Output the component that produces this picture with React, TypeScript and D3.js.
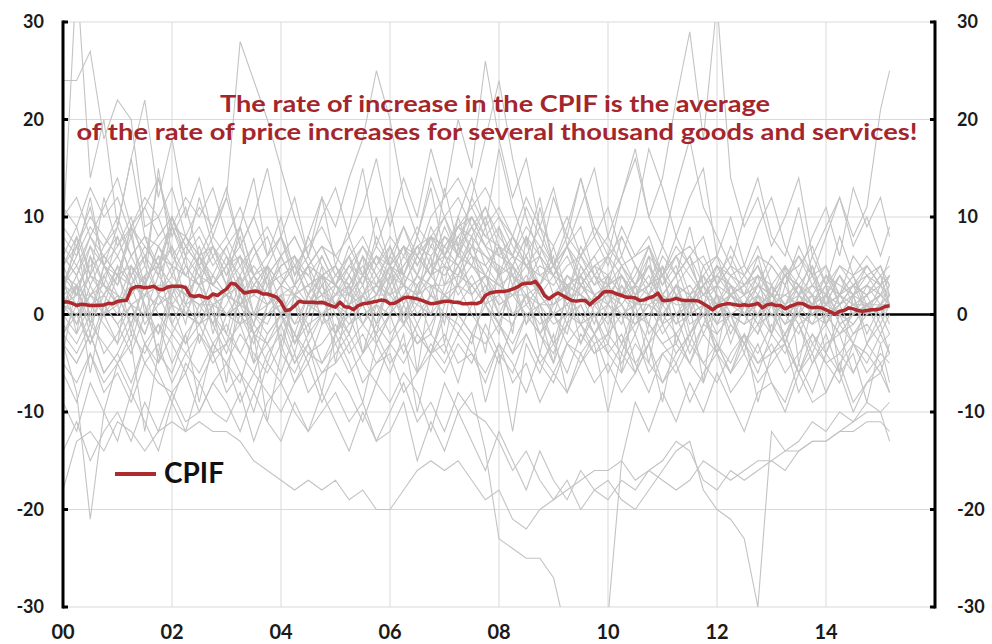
import React from "react";
import * as d3 from "d3";

// CPIF, annual % change, monthly Jan 2000 - Mar 2015
const cpif: number[] = [
  1.26, 1.3, 1.15, 0.92, 1.05, 1.0, 0.92, 0.92, 0.95, 0.98, 1.15, 1.1,
  1.35, 1.42, 1.45, 2.6, 2.85, 2.85, 2.75, 2.8, 2.9, 2.6, 2.55, 2.8,
  2.9, 2.9, 2.9, 2.75, 1.95, 1.85, 1.95, 1.78, 1.7, 2.1, 1.95, 2.3,
  2.6, 3.2, 3.1, 2.6, 2.2, 2.3, 2.4, 2.35, 2.1, 2.1, 1.95, 1.78,
  1.26, 0.4, 0.48, 0.9, 1.35, 1.26, 1.26, 1.26, 1.2, 1.26, 1.1, 0.92,
  0.75, 1.26, 0.8, 0.75, 0.48, 0.92, 1.1, 1.15, 1.26, 1.35, 1.48, 1.42,
  1.1, 1.15, 1.42, 1.7, 1.78, 1.7, 1.6, 1.45, 1.26, 1.1, 1.15, 1.26,
  1.35, 1.35, 1.26, 1.26, 1.1, 1.1, 1.15, 1.1, 1.26, 1.95, 2.2, 2.3,
  2.35, 2.35, 2.45, 2.6, 2.8, 3.1, 3.2, 3.2, 3.4, 2.8, 1.95, 1.6,
  1.95, 2.2, 1.95, 1.7, 1.44, 1.37, 1.44, 1.44, 0.99, 1.44, 1.78, 2.3,
  2.35, 2.3, 2.1, 1.95, 1.78, 1.78, 1.7, 1.44, 1.5, 1.7, 1.85, 2.2,
  1.44, 1.44, 1.5, 1.65, 1.5, 1.44, 1.44, 1.44, 1.37, 1.1, 0.82, 0.48,
  0.82, 0.99, 1.09, 1.09, 0.99, 0.92, 0.99, 0.92, 0.99, 1.16, 0.68, 0.99,
  1.09, 0.92, 0.92, 0.58, 0.82, 0.99, 1.16, 1.09, 0.82, 0.68, 0.75, 0.68,
  0.48, 0.27, 0.03, 0.34, 0.41, 0.68, 0.58, 0.41, 0.34, 0.41, 0.48, 0.48,
  0.58, 0.82, 0.89,
];

// individual goods and services, quarterly readings (last one Mar 2015)
const itemSeries: string[] = [
  "3 1 4 2 5 3 6 4 2 5  3 1 2 4 0 -1 2 3 1 0  2 4 1 3 2 0 3 5 4 6  5 3 1 2 4 2 0 1 3 2  1 3 0 2 1 -1 2 0 1 3  0 2 1 -1 0 2 1 0 -1 1  2 1",
  "-2 1 -3 0 2 -1 3 0 -2 1  -1 -4 0 2 -2 -5 -1 1 -3 0  -2 1 -1 -3 0 2 -1 -4 1 3  0 -2 -5 -1 2 0 -3 -1 1 -2  0 -3 -1 1 -2 0 -4 -1 2 -1  -3 0 -2 1 -1 -4 0 -2 -1 1  -2 0",
  "5 7 3 6 8 4 7 5 9 6  4 6 3 5 2 4 6 3 5 4  2 5 3 6 4 7 5 8 6 9  7 10 6 5 8 4 3 5 6 3  4 2 5 3 4 6 2 3 5 4  3 5 2 4 3 1 4 2 3 5  3 4",
  "4 -2 6 0 -3 5 1 -4 3 -1  6 2 -2 4 -5 1 3 -3 0 5  -2 3 -4 1 5 -1 2 6 -3 4  8 1 -2 5 3 -4 2 -1 4 0  -3 3 1 -5 2 4 -2 1 -4 3  0 -2 3 -3 1 2 -4 0 2 -2  1 3",
  "9 7 10 8 6 9 11 8 10 7  9 6 8 5 7 4 6 8 5 7  6 4 7 5 8 6 9 7 10 12  9 11 8 6 9 7 5 8 6 9  7 5 6 8 4 6 7 5 6 4  5 3 6 4 5 7 3 5 4 6  4 5",
  "-3 -5 -2 -6 -4 -7 -3 -5 -2 -4  -6 -3 -5 -2 -4 -6 -3 -7 -4 -5  -3 -6 -4 -2 -5 -3 -6 -4 -2 -5  -4 -7 -3 -5 -8 -4 -6 -3 -5 -2  -4 -6 -3 -5 -7 -4 -2 -5 -3 -6  -4 -7 -5 -3 -6 -4 -8 -5 -3 -6  -4 -5",
  "1 2 2 3 2 1 2 3 3 2  1 1 2 1 0 1 2 2 1 1  2 2 1 2 2 3 2 3 3 4  3 4 3 2 2 1 1 2 2 1  2 2 1 1 2 1 1 2 1 1  0 1 1 0 1 1 0 0 1 1  1 1",
  "3 6 12 5 4 8 3 15 6 4  7 3 5 9 4 2 6 3 8 5  3 7 4 10 5 3 6 4 13 7  5 9 4 6 3 11 5 2 7 4  3 8 5 2 6 4 9 3 5 2  4 7 3 5 2 6 3 8 4 5  3 6",
  "-3 -8 -21 -10 -5 -3 -12 -4 -6 -2  -9 -3 -5 -7 -2 -11 -4 -6 -3 -8  -2 -5 -9 -3 -6 -2 -10 -4 -3 -7  -2 -9 -4 -12 -3 -6 -2 -8 -5 -3  -10 -4 -6 -3 -9 -2 -5 -7 -3 -6  -2 -9 -4 -3 -8 -5 -2 -6 -4 -9  -3 -7",
  "6 4 8 5 7 9 6 8 10 7  5 8 6 4 7 3 5 6 4 2  4 3 5 2 6 4 7 8 6 9  11 8 10 7 5 6 4 7 5 3  6 4 2 5 3 6 4 2 3 5  2 4 3 1 3 2 4 1 3 2  4 3",
  "0 -2 1 -1 -3 0 -2 2 -1 -3  1 -1 -4 0 -2 -3 -1 -5 -2 0  -3 -1 1 -2 0 -4 -1 2 0 -2  1 3 0 -1 2 -2 0 -3 -1 -4  -2 0 -5 -3 -1 -4 -2 0 -3 -5  -2 -4 -1 -3 -6 -2 -4 -1 -3 -5  -2 -4",
  "5 2 7 3 8 4 6 2 9 5  3 7 4 8 2 5 3 6 1 4  5 2 6 3 7 4 8 5 9 6  10 7 4 8 5 3 7 2 6 4  1 5 3 7 2 4 6 1 5 3  2 6 1 4 3 5 1 4 2 3  5 2",
  "10 12 8 11 14 9 12 10 13 8  11 9 12 7 10 6 8 5 7 9  6 8 4 7 5 9 6 10 12 14  11 13 10 8 12 9 7 10 6 8  5 9 6 7 4 8 5 6 3 7  4 6 5 3 7 4 5 2 6 4  5 3",
  "1 0 2 1 -1 1 0 2 1 0  -1 1 0 -1 0 -2 0 1 -1 0  1 -1 0 1 0 2 1 0 2 1  3 1 2 0 1 -1 0 1 -1 0  1 0 -1 1 0 -2 0 1 -1 0  -1 0 1 -1 0 -1 0 -2 0 1  0 1",
  "-6 -9 -4 -7 -5 -8 -3 -6 -9 -5  -7 -4 -8 -6 -10 -5 -7 -4 -8 -6  -5 -3 -7 -5 -4 -8 -6 -3 -5 -2  -4 -6 -3 -7 -5 -9 -6 -8 -4 -7  -5 -8 -6 -3 -7 -5 -9 -6 -4 -8  -6 -3 -7 -9 -5 -8 -4 -6 -10 -7  -5 -8",
  "4 3 5 6 4 5 3 6 5 4  3 4 2 3 5 3 4 2 3 4  3 2 4 3 5 4 3 5 6 5  7 6 5 4 3 5 4 3 4 2  3 4 2 3 4 2 3 1 3 2  1 3 2 2 1 3 2 1 2 3  2 2",
  "2 8 -1 5 3 9 0 4 7 1  5 -2 3 6 0 4 -3 2 5 -1  3 6 1 -2 4 7 2 8 3 10  6 2 9 4 -1 3 6 0 5 2  -2 4 1 6 -1 3 0 5 2 -3  1 4 -2 3 0 5 -1 2 4 0  3 1",
  "3 2 4 3 1 2 4 5 3 2  4 3 2 1 3 2 0 2 3 1  2 3 1 2 4 3 2 4 5 4  6 5 3 4 2 3 1 3 2 4  2 1 3 2 0 2 1 3 1 2  1 0 2 1 3 0 1 2 0 1  2 1",
  "2 -1 3 0 4 1 -2 2 5 0  3 -1 1 4 -2 0 2 -3 1 3  0 -2 2 4 1 -1 3 0 5 2  4 1 -1 3 6 2 0 -2 3 1  -1 2 0 -3 1 3 -1 0 2 -2  1 -1 2 0 -2 1 3 -1 0 2  -1 1",
  "7 5 8 6 4 9 7 5 10 6  8 5 7 9 4 6 8 3 5 7  4 6 3 8 5 7 4 9 6 8  10 7 9 6 11 8 5 7 9 4  6 8 5 3 7 4 6 8 3 5  4 2 5 3 6 4 2 5 3 4  2 4",
  "-1 -3 0 -4 -2 1 -3 -1 -5 -2  0 -3 -1 -4 -6 -2 0 -3 -1 -5  -2 0 -4 -1 -3 1 -2 -4 0 -1  -3 2 -1 -4 0 -2 -5 -1 -3 0  -4 -2 -6 -1 -3 -5 -2 0 -4 -1  -3 -6 -2 -4 -1 -5 -3 -2 -6 -3  -1 -4",
  "4 2 6 3 1 5 3 7 4 2  6 3 5 1 4 2 0 3 5 2  1 4 2 5 3 6 4 7 5 8  6 4 7 3 5 2 4 1 3 5  2 4 1 3 5 2 0 3 1 4  2 0 3 1 4 2 -1 2 0 3  1 2",
  "-4 3 -6 1 5 -2 4 -5 2 6  -3 1 -7 3 -1 5 -4 2 -2 4  -5 2 6 -3 0 4 -6 3 -1 7  2 -4 5 -2 8 0 -5 3 -3 1  4 -6 2 -1 5 -3 1 -7 3 0  -4 2 -2 5 -5 1 3 -6 2 -3  0 -2",
  "11 9 13 10 12 8 11 14 9 12  10 13 8 11 7 9 6 8 5 7  4 6 8 5 7 3 6 4 7 9  8 11 7 5 8 6 4 7 3 5  6 2 4 7 3 5 1 4 6 2  3 5 1 4 2 3 5 1 3 2  4 1",
  "2 3 1 2 4 3 2 1 3 2  1 2 0 1 2 1 3 2 1 2  3 1 2 3 1 2 4 3 2 3  5 4 3 2 3 1 2 3 2 1  2 0 1 2 1 3 2 0 1 2  1 2 0 1 2 0 1 2 1 0  1 2",
  "-3 -5 -2 -6 -4 -1 -5 -3 -7 -4  -2 -5 -3 -6 -8 -4 -2 -5 -3 -6  -4 -2 -5 -7 -3 -5 -2 -4 -6 -3  -5 -1 -4 -6 -2 -5 -7 -3 -4 -2  -6 -3 -5 -8 -4 -6 -3 -5 -7 -4  -2 -5 -3 -6 -4 -2 -5 -7 -3 -4  -6 -3",
  "5 8 4 7 9 6 3 7 5 8  6 4 7 3 6 8 4 5 2 6  3 5 7 4 6 9 5 8 10 7  12 9 11 8 6 9 5 7 4 6  8 5 3 6 4 7 5 2 4 6  3 5 2 4 6 3 1 4 2 5  3 4",
  "1 3 -1 2 0 4 1 -2 3 1  2 -1 3 0 -3 1 2 -1 0 3  1 -2 2 0 3 -1 1 4 2 5  3 1 4 0 2 -2 1 3 -1 2  0 -3 1 2 -1 0 2 -2 1 0  -1 2 0 -2 1 -1 2 0 -3 1  0 2",
  "3 5 2 4 6 3 5 2 4 7  5 3 6 2 4 1 3 5 2 4  3 1 4 2 5 3 6 4 7 5  8 6 4 5 3 6 2 4 3 1  4 2 3 5 1 3 2 4 0 2  3 1 2 0 3 1 2 4 1 2  3 2",
  "-2 0 -3 1 -1 -4 0 -2 1 -3  -1 0 -2 -4 -1 -3 0 -2 -5 -1  0 -3 -1 1 -2 0 -3 -1 2 0  -2 1 -1 -3 0 -2 -4 0 -1 -3  -2 -4 0 -1 -3 -2 -5 -1 -2 0  -3 -1 -4 -2 0 -3 -1 -4 -2 -1  -3 -2",
  "6 4 7 5 3 6 8 5 7 4  6 3 5 7 4 2 5 6 3 4  5 3 6 4 2 5 7 6 8 7  9 7 6 8 5 7 4 6 3 5  4 6 3 5 2 4 6 3 4 2  3 4 2 5 3 1 4 3 2 4  3 4",
  "0 3 -2 4 1 -3 2 5 -1 2  4 0 -3 2 -1 3 0 -4 1 2  -2 1 3 -1 4 0 2 -2 3 5  2 4 0 3 -1 1 -3 2 0 -2  1 -1 3 -2 0 2 -3 1 -1 2  0 -2 1 -3 2 0 -1 1 -2 0  1 -1",
  "8 6 9 7 10 6 8 7 9 8  6 7 5 6 4 5 3 5 4 6  3 5 4 6 5 7 6 8 7 9  10 8 7 6 5 4 5 3 4 2  3 4 2 3 1 3 2 4 2 1  2 3 1 2 3 1 2 0 2 1  2 1",
  "-2 -4 -1 -3 -5 -2 -4 -1 -3 -6  -2 -4 -3 -1 -5 -3 -6 -2 -4 -3  -1 -4 -2 -5 -3 -1 -3 -2 -4 0  -2 -3 -1 -4 -2 -5 -3 -6 -2 -4  -3 -5 -2 -6 -4 -3 -5 -2 -4 -6  -3 -5 -4 -2 -6 -3 -5 -4 -6 -3  -5 -4",
  "1 4 0 5 2 -1 3 6 1 3  0 4 2 -1 3 5 1 -2 2 4  1 3 -1 2 5 1 4 2 6 3  7 4 2 5 1 3 0 4 2 -1  3 1 -2 2 4 0 1 3 -1 2  0 3 1 -1 2 4 0 1 3 0  2 1",
  "1 -1 2 0 1 3 -1 1 2 0  -1 2 0 1 -2 0 1 -1 2 0  1 0 2 -1 1 3 0 2 1 3  2 4 1 2 0 1 -1 0 1 -2  0 1 -1 0 2 -1 0 1 -2 0  1 -1 0 1 -1 0 2 -1 0 1  0 1",
  // volatile items
  "24 24 27 18 22 20 9 10 6 8  5 7 4 6 3 5 8 4 6 3  5 2 4 6 3 5 7 4 8 6  9 5 7 4 6 3 5 2 4 6  3 5 2 4 1 3 5 2 4 3  1 3 2 4 2 1 3 2 4 1  2 3",
  "8 35 14 20 9 16 22 12 18 10  14 8 12 28 24 20 15 10 6 12  9 14 18 25 20 12 8 14 10 6  12 18 24 16 10 6 12 8 14 9  6 12 16 10 7 13 18 11 8 5  10 14 8 6 11 4 8 12 7 10  6 9",
  "6 9 4 12 7 10 5 14 8 11  6 9 13 7 10 15 8 12 6 10  13 8 11 16 9 14 10 17 12 20  15 26 18 12 16 9 13 7 11 15  8 12 17 10 14 22 29 18 32 14  9 12 7 10 14 6 9 12 8 11  21 25",
  "3 7 11 5 9 16 8 4 10 6  12 7 3 9 14 6 10 4 8 12  5 9 15 7 11 4 8 13 6 10  14 9 17 11 7 12 5 9 14 8  11 6 10 17 13 8 12 15 6 10  5 9 12 7 4 8 11 6 13 9  12 8",
  "-18 -13 -12 -14 -11 -12 -14 -12 -11 -12  -11 -12 -12 -13 -15 -16 -17 -18 -17 -18  -17 -19 -18 -20 -20 -18 -16 -15 -16 -15  -17 -19 -18 -21 -22 -20 -19 -18 -17 -16  -16 -15 -17 -16 -17 -18 -17 -15 -16 -17  -16 -15 -15 -14 -14 -13 -13 -12 -12 -11  -11 -12",
  "-5 -7 -4 -8 -6 -9 -5 -7 -8 -6  -10 -7 -5 -9 -6 -8 -10 -7 -5 -9  -6 -8 -11 -7 -9 -6 -8 -12 -7 -10  -8 -14 -23 -24 -25 -25 -27 -33 -36 -32  -31 -15 -9 -12 -8 -11 -7 -10 -6 -9  -12 -8 -7 -10 -6 -9 -8 -5 -9 -7  -6 -8",
  "-9 -12 -7 -10 -13 -8 -11 -14 -9 -12  -7 -10 -11 -8 -13 -9 -7 -10 -12 -8  -11 -14 -10 -13 -12 -9 -15 -11 -14 -10  -13 -16 -12 -15 -18 -14 -17 -19 -16 -18  -17 -19 -20 -18 -16 -14 -13 -18 -20 -21  -23 -30 -12 -14 -13 -11 -12 -10 -11 -9  -10 -13",
  "-14 -11 -15 -12 -10 -13 -9 -12 -8 -11  -10 -7 -9 -12 -8 -11 -13 -9 -12 -10  -8 -11 -9 -13 -10 -7 -11 -9 -12 -8  -10 -11 -13 -16 -14 -17 -19 -17 -20 -18  -19 -17 -18 -16 -15 -13 -14 -17 -18 -16  -17 -16 -15 -16 -14 -13 -13 -12 -11 -10  -10 -9",
];

const yTicks = [-30, -20, -10, 0, 10, 20, 30];
const xTickYears = [2000, 2002, 2004, 2006, 2008, 2010, 2012, 2014];
const titleLines = [
  "The rate of increase in the CPIF is the average",
  "of the rate of price increases for several thousand goods and services!",
];

const W = 992;
const H = 644;
const left = 63;
const right = 935;
const top = 22;
const bottom = 607;

const x = d3.scaleLinear().domain([2000, 2016]).range([left, right]);
const y = d3.scaleLinear().domain([-30, 30]).range([bottom, top]);

type Pt = [number, number];

const items: Pt[][] = itemSeries.map((s) =>
  s
    .trim()
    .split(/\s+/)
    .map((v, i) => [2000 + Math.min(i * 3, 182) / 12, +v] as Pt)
);
const cpifPts: Pt[] = cpif.map((v, i) => [2000 + i / 12, v]);

const line = d3
  .line<Pt>()
  .x((d) => x(d[0]))
  .y((d) => y(d[1]));

const font = "Lato, 'Open Sans', sans-serif";

export default function App() {
  return (
    <svg
      width={W}
      height={H}
      style={{ position: "absolute", left: 0, top: 0, background: "#fff" }}
      fontFamily={font}
    >
      <defs>
        <clipPath id="plot">
          <rect x={left} y={top} width={right - left} height={bottom - top} />
        </clipPath>
      </defs>

      {/* grid */}
      {yTicks.map((t) => (
        <line key={"h" + t} x1={left} x2={right} y1={y(t)} y2={y(t)} stroke="#d9d9d9" />
      ))}
      {xTickYears.slice(1).map((t) => (
        <line key={"v" + t} x1={x(t)} x2={x(t)} y1={top} y2={bottom} stroke="#d9d9d9" />
      ))}

      {/* zero line */}
      <line x1={left} x2={right} y1={y(0)} y2={y(0)} stroke="#000" strokeWidth={2.5} />

      <g clipPath="url(#plot)">
        {items.map((d, i) => (
          <path key={i} d={line(d) || ""} fill="none" stroke="#c3c3c3" strokeWidth={1.1} />
        ))}
        <path d={line(cpifPts) || ""} fill="none" stroke="#ad2a2e" strokeWidth={3.5} strokeLinejoin="round" />
      </g>

      {/* axes */}
      <line x1={left} x2={left} y1={top - 1.5} y2={bottom + 1.5} stroke="#000" strokeWidth={3} />
      <line x1={right} x2={right} y1={top - 1.5} y2={bottom + 1.5} stroke="#000" strokeWidth={3} />
      {yTicks.map((t) => (
        <g key={"t" + t}>
          <line x1={left} x2={left + 5} y1={y(t)} y2={y(t)} stroke="#000" strokeWidth={3} />
          <line x1={right - 5} x2={right} y1={y(t)} y2={y(t)} stroke="#000" strokeWidth={3} />
          <text x={44} y={y(t)} dy="0.36em" textAnchor="end" fontSize={18} fontWeight="bold" fill="#1a1a1a">
            {t}
          </text>
          <text x={957} y={y(t)} dy="0.36em" textAnchor="start" fontSize={18} fontWeight="bold" fill="#1a1a1a">
            {t}
          </text>
        </g>
      ))}
      {xTickYears.map((t) => (
        <text key={"x" + t} x={x(t)} y={639} textAnchor="middle" fontSize={20} fontWeight="bold" fill="#1a1a1a">
          {String(t % 100).padStart(2, "0")}
        </text>
      ))}

      {/* annotation */}
      <text x={495} y={112} textAnchor="middle" fontSize={23} fontWeight="bold" fill="#a4262c"
        textLength={550} lengthAdjust="spacingAndGlyphs">
        {titleLines[0]}
      </text>
      <text x={497} y={140} textAnchor="middle" fontSize={23} fontWeight="bold" fill="#a4262c"
        textLength={841} lengthAdjust="spacingAndGlyphs">
        {titleLines[1]}
      </text>

      {/* legend */}
      <line x1={115} x2={156} y1={474} y2={474} stroke="#ad2a2e" strokeWidth={4} />
      <text x={164} y={483} fontSize={28} fontWeight="bold" fill="#111">
        CPIF
      </text>
    </svg>
  );
}
